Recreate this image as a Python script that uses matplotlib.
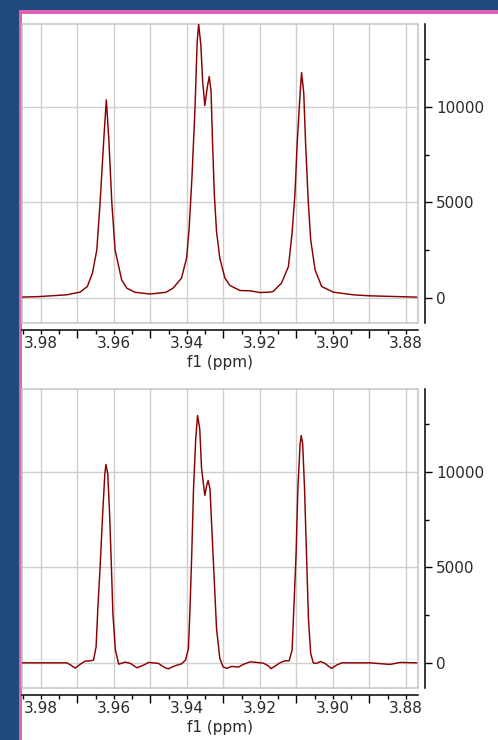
import matplotlib
matplotlib.use("Agg")
import matplotlib.pyplot as plt
from matplotlib.patches import Rectangle
from matplotlib.ticker import FixedLocator, MultipleLocator

plt.rcParams['font.family'] = ['DejaVu Sans']

top_ppm = [3.9852, 3.9803, 3.9730, 3.9693, 3.9673, 3.9659, 3.9647, 3.9638, 3.9628, 3.9621,
           3.9614, 3.9606, 3.9597, 3.9579, 3.9565, 3.9542, 3.9501, 3.9458, 3.9438, 3.9415,
           3.9401, 3.9394, 3.9386, 3.9378, 3.9372, 3.9368, 3.9362, 3.9357, 3.9351, 3.9344,
           3.9339, 3.9334, 3.9330, 3.9325, 3.9319, 3.9310, 3.9296, 3.9282, 3.9255, 3.9227,
           3.9200, 3.9173, 3.9164, 3.9141, 3.9122, 3.9112, 3.9104, 3.9098, 3.9090, 3.9086,
           3.9080, 3.9075, 3.9068, 3.9061, 3.9049, 3.9031, 3.8999, 3.8944, 3.8899, 3.8771]
top_int = [37, 68, 157, 300, 593, 1295, 2517, 5019, 8286, 10383,
           8286, 5019, 2517, 944, 509, 288, 199, 288, 509, 1033,
           2082, 3655, 6450, 9948, 13440, 14353, 13267, 11343, 10084, 11081,
           11605, 10819, 8196, 5401, 3477, 2082, 1033, 645, 383, 367,
           278, 299, 330, 771, 1641, 3393, 5490, 8112, 10735, 11815,
           10735, 8112, 5139, 3042, 1468, 593, 299, 157, 105, 37]

bot_ppm = [3.9852, 3.9729, 3.9717, 3.9706, 3.9692, 3.9679, 3.9665, 3.9656, 3.9649, 3.9644,
           3.9638, 3.9631, 3.9625, 3.9622, 3.9617, 3.9612, 3.9607, 3.9603, 3.9596, 3.9587,
           3.9569, 3.9555, 3.9537, 3.9519, 3.9505, 3.9478, 3.9460, 3.9451, 3.9433, 3.9415,
           3.9404, 3.9396, 3.9392, 3.9387, 3.9382, 3.9376, 3.9371, 3.9365, 3.9360, 3.9351,
           3.9346, 3.9342, 3.9337, 3.9331, 3.9325, 3.9319, 3.9310, 3.9301, 3.9291, 3.9278,
           3.9259, 3.9246, 3.9227, 3.9209, 3.9191, 3.9177, 3.9170, 3.9145, 3.9132, 3.9120,
           3.9112, 3.9107, 3.9101, 3.9096, 3.9090, 3.9087, 3.9083, 3.9078, 3.9072, 3.9067,
           3.9061, 3.9054, 3.9045, 3.9034, 3.9022, 3.9004, 3.8990, 3.8976, 3.8899, 3.8844,
           3.8816, 3.8771]
bot_int = [0, 0, -136, -277, -68, 89, 105, 141, 838, 2932,
           5027, 7822, 9917, 10404, 9917, 7822, 5027, 2587, 665, -68,
           37, -31, -262, -120, 21, -31, -262, -314, -157, -52,
           141, 754, 2670, 5639, 9131, 11749, 12970, 12273, 10179, 8781,
           9304, 9566, 9131, 6686, 4241, 1801, 230, -209, -293, -188,
           -225, -84, 52, 21, -16, -157, -310, 0, 105, 105,
           665, 2932, 5728, 9215, 11487, 11922, 11487, 9215, 5377, 2236,
           492, 0, -31, 73, -31, -293, -120, 0, 0, -84,
           21, 0]

x_ticks = [3.98, 3.97, 3.96, 3.95, 3.94, 3.93, 3.92, 3.91, 3.90, 3.89, 3.88]
x_labels = ['3.98', '', '3.96', '', '3.94', '', '3.92', '', '3.90', '', '3.88']
y_ticks = [0, 5000, 10000]
y_labels = ['0', '5000', '10000']
x_label = 'f1 (ppm)'

XLIM = (3.9852, 3.8767)
YLIM = (-1320, 14360)

W, H = 498, 740
BLUE = '#1f4a7c'
PINK = '#de62b4'
GRID = '#cfcfcf'
FRAME = '#c4c4c4'
LINE = '#8b0000'
TXT = '#2a2a2a'
FS = 11
PX = 0.72  # points per pixel at 100 dpi

fig = plt.figure(figsize=(W / 100, H / 100), dpi=100, facecolor=BLUE)
# white panel and pink border (behind the axes)
fig.add_artist(Rectangle((22.3 / W, 0), 1, (H - 14) / H, transform=fig.transFigure,
                         facecolor='white', edgecolor='none', zorder=-3))
fig.add_artist(Rectangle((18.5 / W, 0), 3.8 / W, (H - 10) / H, transform=fig.transFigure,
                         facecolor=PINK, edgecolor='none', zorder=-2))
fig.add_artist(Rectangle((18.5 / W, (H - 14) / H), 1, 4 / H, transform=fig.transFigure,
                         facecolor=PINK, edgecolor='none', zorder=-2))


def make_axes(top_px, xs, ys):
    ax = fig.add_axes([22 / W, (H - top_px - 299) / H, 396 / W, 299 / H])
    ax.set_facecolor('none')
    ax.plot(xs, ys, color=LINE, lw=1.05, solid_joinstyle='round', zorder=3)
    ax.set_xlim(*XLIM)
    ax.set_ylim(*YLIM)

    # grey frame
    ax.add_patch(Rectangle((0, 0), 1, 1, transform=ax.transAxes, fill=False,
                           edgecolor=FRAME, lw=1.1, clip_on=False, zorder=2))
    for s in ('top', 'left'):
        ax.spines[s].set_visible(False)
    ax.spines['bottom'].set_position(('outward', 7 * PX))
    ax.spines['right'].set_position(('outward', 6.5 * PX))
    for s in ('bottom', 'right'):
        ax.spines[s].set_color('black')
        ax.spines[s].set_linewidth(1.1)

    # x ticks
    ax.xaxis.set_major_locator(FixedLocator(x_ticks))
    ax.set_xticklabels(x_labels)
    ax.xaxis.set_minor_locator(MultipleLocator(0.005))
    ax.tick_params(axis='x', which='major', direction='out', length=4 * PX, width=1.0,
                   pad=1.6, labelsize=FS, colors='black', labelcolor=TXT)
    ax.tick_params(axis='x', which='minor', direction='out', length=3.5 * PX, width=1.0)
    for t, lab in zip(ax.xaxis.get_major_ticks(), x_labels):
        t.tick1line.set_markersize(4 * PX if lab else 8 * PX)
    ax.set_xlabel(x_label, fontsize=FS, color=TXT, labelpad=2.5)

    # y ticks on the right
    ax.yaxis.tick_right()
    ax.yaxis.set_major_locator(FixedLocator(y_ticks))
    ax.set_yticklabels(y_labels)
    ax.yaxis.set_minor_locator(MultipleLocator(2500))
    ax.tick_params(axis='y', which='major', direction='out', length=7 * PX, width=1.0,
                   pad=3.3, labelsize=FS, labelcolor=TXT)
    ax.tick_params(axis='y', which='minor', direction='out', length=4 * PX, width=1.0)

    ax.grid(True, which='major', color=GRID, lw=1.0, zorder=1)
    ax.set_axisbelow(True)
    return ax


make_axes(24, top_ppm, top_int)
make_axes(389, bot_ppm, bot_int)

fig.savefig('out.png', dpi=100, facecolor=BLUE)
